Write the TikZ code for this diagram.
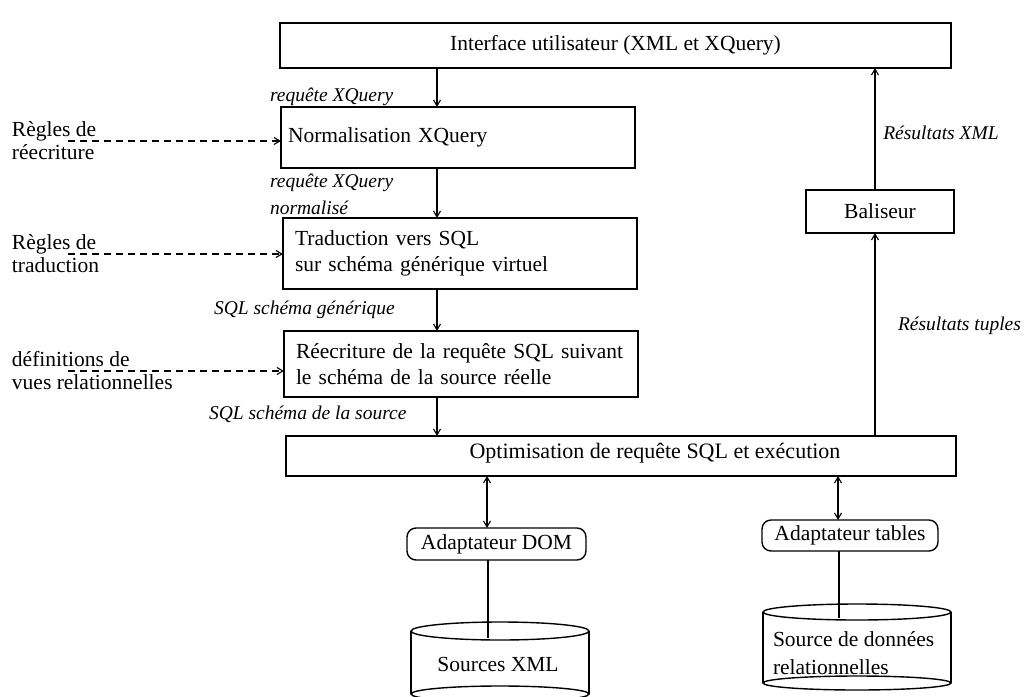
\documentclass[tikz,border=0pt]{standalone}
\usepackage{fontspec}
\setmainfont{Liberation Serif}
\usetikzlibrary{arrows.meta}
\begin{document}
\begin{tikzpicture}[x=1pt,y=-1pt,
  every node/.style={inner sep=0pt, outer sep=0pt},
  box/.style={draw, line width=1.4pt, rectangle, font=\fontsize{21.5}{26}\selectfont},
  adapt/.style={box, rounded corners=9pt},
  plain/.style={font=\fontsize{21.5}{28}\selectfont},
  lefttxt/.style={anchor=west, align=left, font=\fontsize{21.5}{23}\selectfont},
  flowlbl/.style={anchor=west, align=left, font=\fontsize{19.5}{27}\selectfont\itshape},
  arr/.style={line width=1.4pt, -{Straight Barb[length=6pt,width=7pt,line width=1.1pt]}},
  darr/.style={line width=1.4pt, {Straight Barb[length=6pt,width=7pt,line width=1.1pt]}-{Straight Barb[length=6pt,width=7pt,line width=1.1pt]}},
  dasharr/.style={line width=1.2pt, dash pattern=on 7pt off 5pt, -{Straight Barb[length=6pt,width=7pt,line width=1.1pt]}},
  cyl/.style={line width=1.4pt},
]
\clip (0,0) rectangle (1027,696);
\fill[white] (0,0) rectangle (1027,696);

% main pipeline boxes
\node[box, minimum width=671pt, minimum height=45pt] (iface) at (615.5,45.5) {Interface utilisateur (XML et XQuery)};
\node[box, minimum width=354pt, minimum height=61pt, text width=340pt, align=left] (norm) at (458,137.5) {Normalisation XQuery};
\node[box, minimum width=354pt, minimum height=71pt, text width=330pt, align=left] (trad) at (460,253.5) {Traduction vers SQL\\sur schéma générique virtuel};
\node[box, minimum width=354pt, minimum height=66pt, text width=330pt, align=left] (reecr) at (461,364) {Réecriture de la requête SQL suivant\\le schéma de la source réelle};
\node[box, minimum width=670pt, minimum height=40pt] (opt) at (621,456) {};
\node[font=\fontsize{22}{28}\selectfont] (optlbl) at (655,453) {Optimisation de requête SQL et exécution};
\node[box, minimum width=148pt, minimum height=43pt] (bal) at (880,211.5) {Baliseur};

% adapters
\node[adapt, minimum width=179pt, minimum height=32pt] (dom) at (496.5,544) {Adaptateur DOM};
\node[adapt, minimum width=176pt, minimum height=31pt] (tab) at (850,535.5) {Adaptateur tables};

% data sources (cylinders)
\draw[cyl] (411,631) -- (411,694) (589,631) -- (589,694);
\draw[cyl] (500,631) ellipse [x radius=89, y radius=9];
\draw[cyl] (500,694) ellipse [x radius=89, y radius=8];
\node[plain] (xmltxt) at (498,664) {Sources XML};
\coordinate (xmlin) at (488,638);

\draw[cyl] (763,612) -- (763,683) (951,612) -- (951,683);
\draw[cyl] (857,612) ellipse [x radius=94, y radius=8];
\draw[cyl] (857,683) ellipse [x radius=94, y radius=7];
\node[plain, anchor=west, align=left] (reltxt) at (773,653) {Source de données\\relationnelles};
\coordinate (relin) at (839,618);

% query flow
\coordinate (sp) at (437,0);
\draw[arr] (iface.south -| sp) -- (norm.north -| sp);
\draw[arr] (norm.south -| sp) -- (trad.north -| sp);
\draw[arr] (trad.south -| sp) -- (reecr.north -| sp);
\draw[arr] (reecr.south -| sp) -- (opt.north -| sp);

% result flow
\coordinate (rt) at (875,0);
\draw[arr] (opt.north -| rt) -- (bal.south -| rt);
\draw[arr] (bal.north -| rt) -- (iface.south -| rt);

% adapters to the engine and to the sources
\coordinate (lx) at (487,0);
\coordinate (rx) at (838,0);
\draw[darr] (opt.south -| lx) -- (dom.north -| lx);
\draw[darr] (opt.south -| rx) -- (tab.north -| rx);
\draw[cyl] (dom.south -| xmlin) -- (xmlin);
\draw[cyl] (tab.south -| relin) -- (relin);

% rule inputs
\node[lefttxt] (l1) at (12,140.5) {Règles de\\réecriture};
\node[lefttxt] (l2) at (12,253.5) {Règles de\\traduction};
\node[lefttxt] (l3) at (12,370.5) {définitions de\\vues relationnelles};
\coordinate (d1) at (68,141);
\coordinate (d2) at (68,254);
\coordinate (d3) at (68,371);
\draw[dasharr] (d1) -- (norm.west |- d1);
\draw[dasharr] (d2) -- (trad.west |- d2);
\draw[dasharr] (d3) -- (reecr.west |- d3);

% flow labels
\node[flowlbl] (q1) at (270,97) {requête XQuery};
\node[flowlbl] (q2) at (270,194.5) {requête XQuery\\normalisé};
\node[flowlbl] (q3) at (214,310) {SQL schéma générique};
\node[flowlbl] (q4) at (209,414) {SQL schéma de la source};
\node[flowlbl, anchor=center] (r1) at (941,133) {Résultats XML};
\node[flowlbl] (r2) at (898,326) {Résultats tuples};
\end{tikzpicture}
\end{document}
